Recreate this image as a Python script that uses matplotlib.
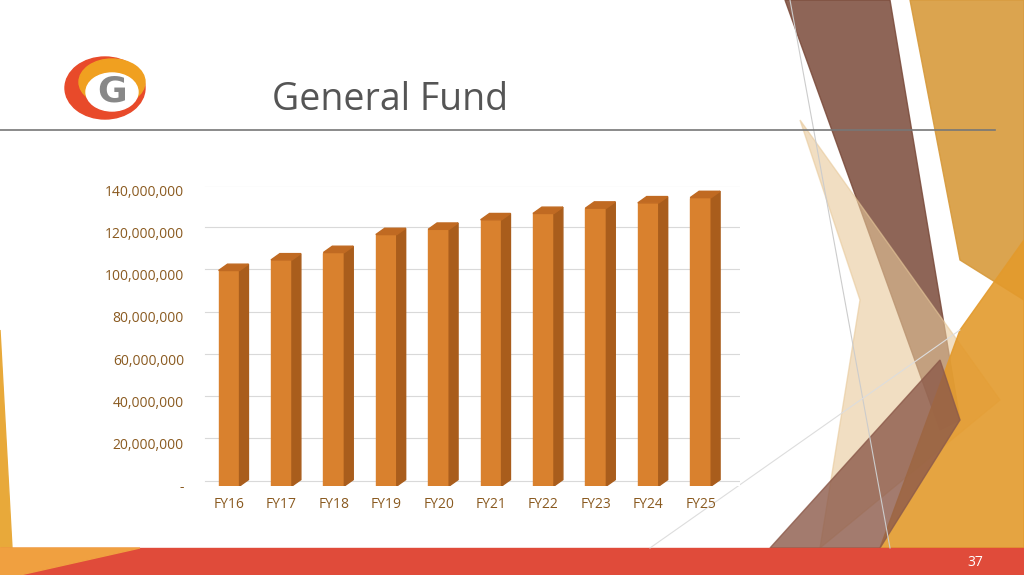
import numpy as np
import matplotlib.pyplot as plt
from matplotlib.patches import Polygon, Rectangle, Ellipse

years = ['FY16', 'FY17', 'FY18', 'FY19', 'FY20', 'FY21', 'FY22', 'FY23', 'FY24', 'FY25']
fund = [102e6, 107e6, 110.5e6, 119e6, 121.5e6, 126e6, 129e6, 131.5e6, 134e6, 136.5e6]
yticks = [0, 20e6, 40e6, 60e6, 80e6, 100e6, 120e6, 140e6]
ylabels = ['-', '20,000,000', '40,000,000', '60,000,000', '80,000,000',
           '100,000,000', '120,000,000', '140,000,000']

W, H = 1024, 575
fig = plt.figure(figsize=(W / 100, H / 100), dpi=100)
bg = fig.add_axes([0, 0, 1, 1])
bg.set_xlim(0, W)
bg.set_ylim(H, 0)
bg.axis('off')

# decorative shapes on the right
bg.add_patch(Polygon([[785, 0], [890, 0], [960, 420], [940, 430]], color='#7a4a3a', alpha=0.85))
bg.add_patch(Polygon([[910, 0], [1024, 0], [1024, 300], [960, 260]], color='#d79a3c', alpha=0.9))
bg.add_patch(Polygon([[800, 120], [1000, 400], [820, 548], [860, 300]], color='#e8c99a', alpha=0.6))
bg.add_patch(Polygon([[960, 330], [1024, 240], [1024, 548], [880, 548]], color='#e39a2c', alpha=0.9))
bg.add_patch(Polygon([[770, 548], [940, 360], [960, 420], [880, 548]], color='#8c5a4a', alpha=0.8))
bg.add_patch(Polygon([[0, 330], [12, 548], [0, 548]], color='#e8a93a'))
bg.plot([790, 890], [0, 548], color='#cccccc', lw=0.8)
bg.plot([650, 960], [548, 330], color='#dddddd', lw=0.8)

# bottom band
bg.add_patch(Rectangle((0, 548), W, 27, color='#e04b3a'))
bg.add_patch(Polygon([[0, 548], [140, 548], [20, 575], [0, 575]], color='#f0a040'))
bg.text(975, 562, '37', color='white', fontsize=10, ha='center', va='center', family='Open Sans')

# header
bg.plot([0, 995], [130, 130], color='#777777', lw=1.2)
bg.text(390, 100, 'General Fund', fontsize=27, color='#555555', ha='center', va='center', family='Open Sans')
bg.add_patch(Ellipse((105, 88), 80, 62, color='#e84a2a'))
bg.add_patch(Ellipse((112, 82), 66, 46, color='#f0a020'))
bg.add_patch(Ellipse((112, 92), 52, 38, color='white'))
bg.text(112, 92, 'G', fontsize=26, fontweight='bold', color='#888888', ha='center', va='center')

# chart
ax = fig.add_axes([195 / W, 1 - 486 / H, 545 / W, 300 / H])
ax.set_xlim(-0.65, 9.75)
ax.set_ylim(0, 142e6)
ax.set_yticks(yticks)
ax.set_yticklabels(ylabels, color='#8a5a20', fontsize=10, family='Open Sans')
ax.set_xticks(range(len(years)))
ax.set_xticklabels(years, color='#8a5a20', fontsize=10, family='Open Sans')
ax.tick_params(length=0, pad=8)
for s in ax.spines.values():
    s.set_visible(False)
for t in yticks:
    ax.plot([-0.45, 9.75], [t + 2.5e6, t + 2.5e6], color='#d9d9d9', lw=0.8, zorder=0)

bw = 0.4
dx, dy = 0.17, 3e6
for i, v in enumerate(fund):
    x0 = i - bw / 2
    ax.add_patch(Rectangle((x0, 0), bw, v, color='#d9812e', zorder=3))
    ax.add_patch(Polygon([[x0 + bw, 0], [x0 + bw + dx, dy], [x0 + bw + dx, v + dy], [x0 + bw, v]],
                         color='#a95d1c', zorder=3))
    ax.add_patch(Polygon([[x0, v], [x0 + bw, v], [x0 + bw + dx, v + dy], [x0 + dx, v + dy]],
                         color='#c06a22', zorder=3))

fig.savefig('out.png', dpi=100)
